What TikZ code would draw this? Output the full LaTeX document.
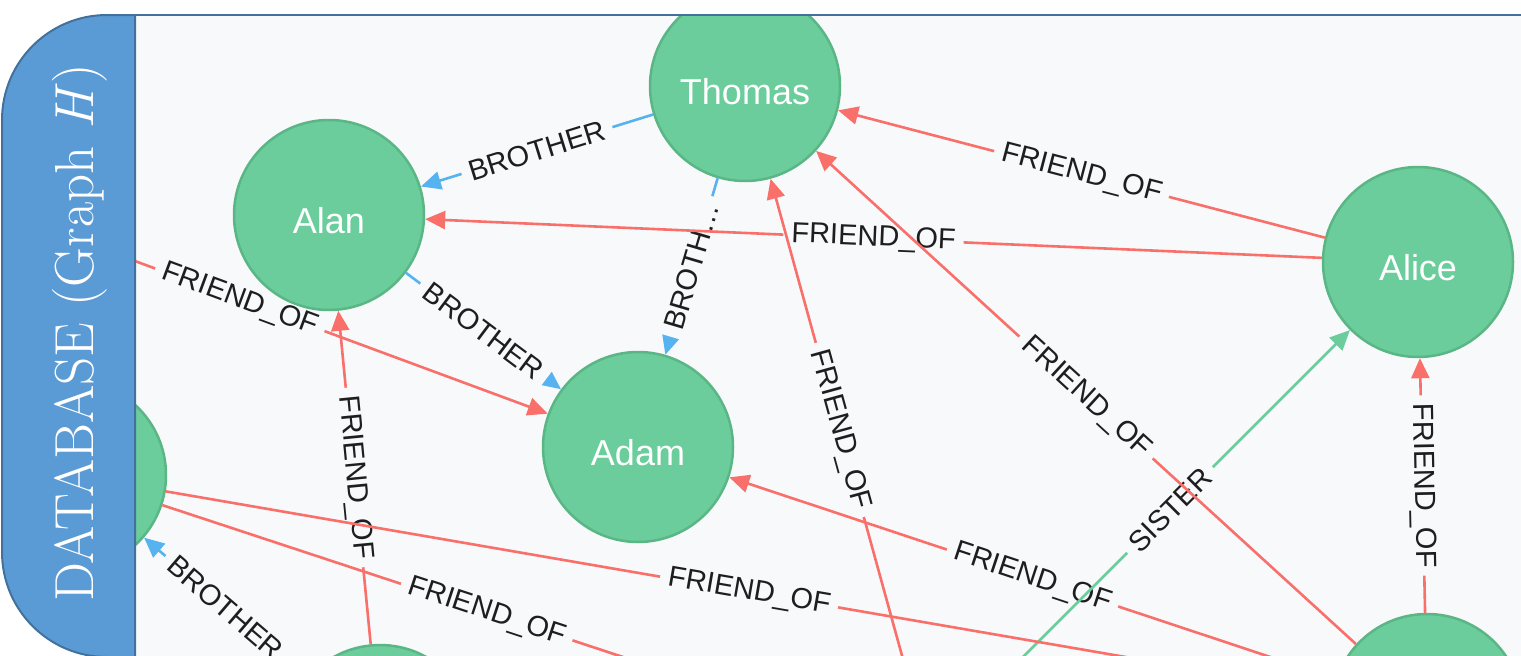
\documentclass[tikz,border=0pt]{standalone}
\usepackage{fontspec}
\newfontfamily\graphfont{Liberation Sans}
\usetikzlibrary{arrows.meta, positioning}

\definecolor{tabblue}{RGB}{91,155,213}
\definecolor{tabedge}{RGB}{65,113,156}
\definecolor{panelbg}{RGB}{248,249,251}
\definecolor{nodefill}{RGB}{106,205,155}
\definecolor{nodeedge}{RGB}{90,182,133}
\definecolor{friendred}{RGB}{249,111,106}
\definecolor{brotherblue}{RGB}{87,178,240}
\definecolor{sistergreen}{RGB}{106,205,155}
\definecolor{lbltext}{RGB}{30,30,30}

\begin{document}
\begin{tikzpicture}[->, >={Triangle[length=20pt, width=18pt]}, x=1pt, y=1pt,
    person/.style={circle, draw=nodeedge, fill=nodefill, line width=2.5pt, minimum size=190pt, inner sep=0pt, text=white, text height=36pt, text depth=0pt, font=\graphfont\fontsize{36}{36}\selectfont},
    lbl/.style={sloped, fill=panelbg, text=lbltext, inner xsep=8pt, inner ysep=1pt, font=\graphfont\fontsize{29}{29}\selectfont},
    every edge/.append style={line width=2.6pt},
    friend/.style={draw=friendred}, brother/.style={draw=brotherblue}, sister/.style={draw=sistergreen}]
    \useasboundingbox (0,-656) rectangle (1521,0);
    \fill[panelbg] (135,-15) rectangle (1521,-656);

    \begin{scope}
    \clip (135,-15) rectangle (1521,-656);
    \node[person] (thomas) at (745,-86) {Thomas};
    \node[person] (alan) at (329,-215) {Alan};
    \node[person] (adam) at (638,-447) {Adam};
    \node[person] (alice) at (1418,-262) {Alice};
    \node[person] (left1) at (71,-475) {};
    \node[person] (bottom1) at (380,-740) {};
    \node[person] (bottom2) at (1427,-709) {};
    \coordinate (away1) at (-68,-186);
    \coordinate (away2) at (811,-719);
    \coordinate (away3) at (909,-681);
    \coordinate (away4) at (990,-690);

    \draw (thomas) edge[brother] node[lbl]{BROTHER} (alan);
    \draw (thomas) edge[brother] node[lbl]{BROTH…} (adam);
    \draw (alice) edge[friend] node[lbl]{FRIEND\_OF} (thomas);
    \draw (alice) edge[friend] node[lbl]{FRIEND\_OF} (alan);
    \draw (bottom1) edge[friend] node[lbl]{FRIEND\_OF} (alan);
    \draw (away3) edge[friend] node[lbl]{FRIEND\_OF} (thomas);
    \draw (bottom2) edge[friend] node[lbl]{FRIEND\_OF} (adam);
    \draw (away4) edge[sister] node[lbl]{SISTER} (alice);
    \draw (bottom2) edge[friend] node[lbl]{FRIEND\_OF} (thomas);
    \draw (bottom2) edge[friend] node[lbl]{FRIEND\_OF} (alice);
    \draw (alan) edge[brother] node[lbl]{BROTHER} (adam);
    \draw (away1) edge[friend] node[lbl]{FRIEND\_OF} (adam);
    \draw (left1) edge[friend] node[lbl]{FRIEND\_OF} (bottom2);
    \draw (left1) edge[friend] node[lbl]{FRIEND\_OF} (away2);
    \draw (bottom1) edge[brother] node[lbl]{BROTHER} (left1);
    \end{scope}

    % side tab
    \draw[-, fill=tabblue, draw=tabedge, line width=2pt] (135,-15) -- (107,-15) .. controls (49,-15) and (2,-62) .. (2,-120) -- (2,-552) .. controls (2,-610) and (49,-657) .. (107,-657) -- (135,-657) -- cycle;
    \draw[-, draw=tabedge, line width=2pt] (135,-15) -- (1521,-15);
    \node[rotate=90, anchor=base, text=white, font=\fontsize{55}{55}\selectfont] (title) at (93,-333) {DATABASE (Graph \textit{H})};
\end{tikzpicture}
\end{document}
